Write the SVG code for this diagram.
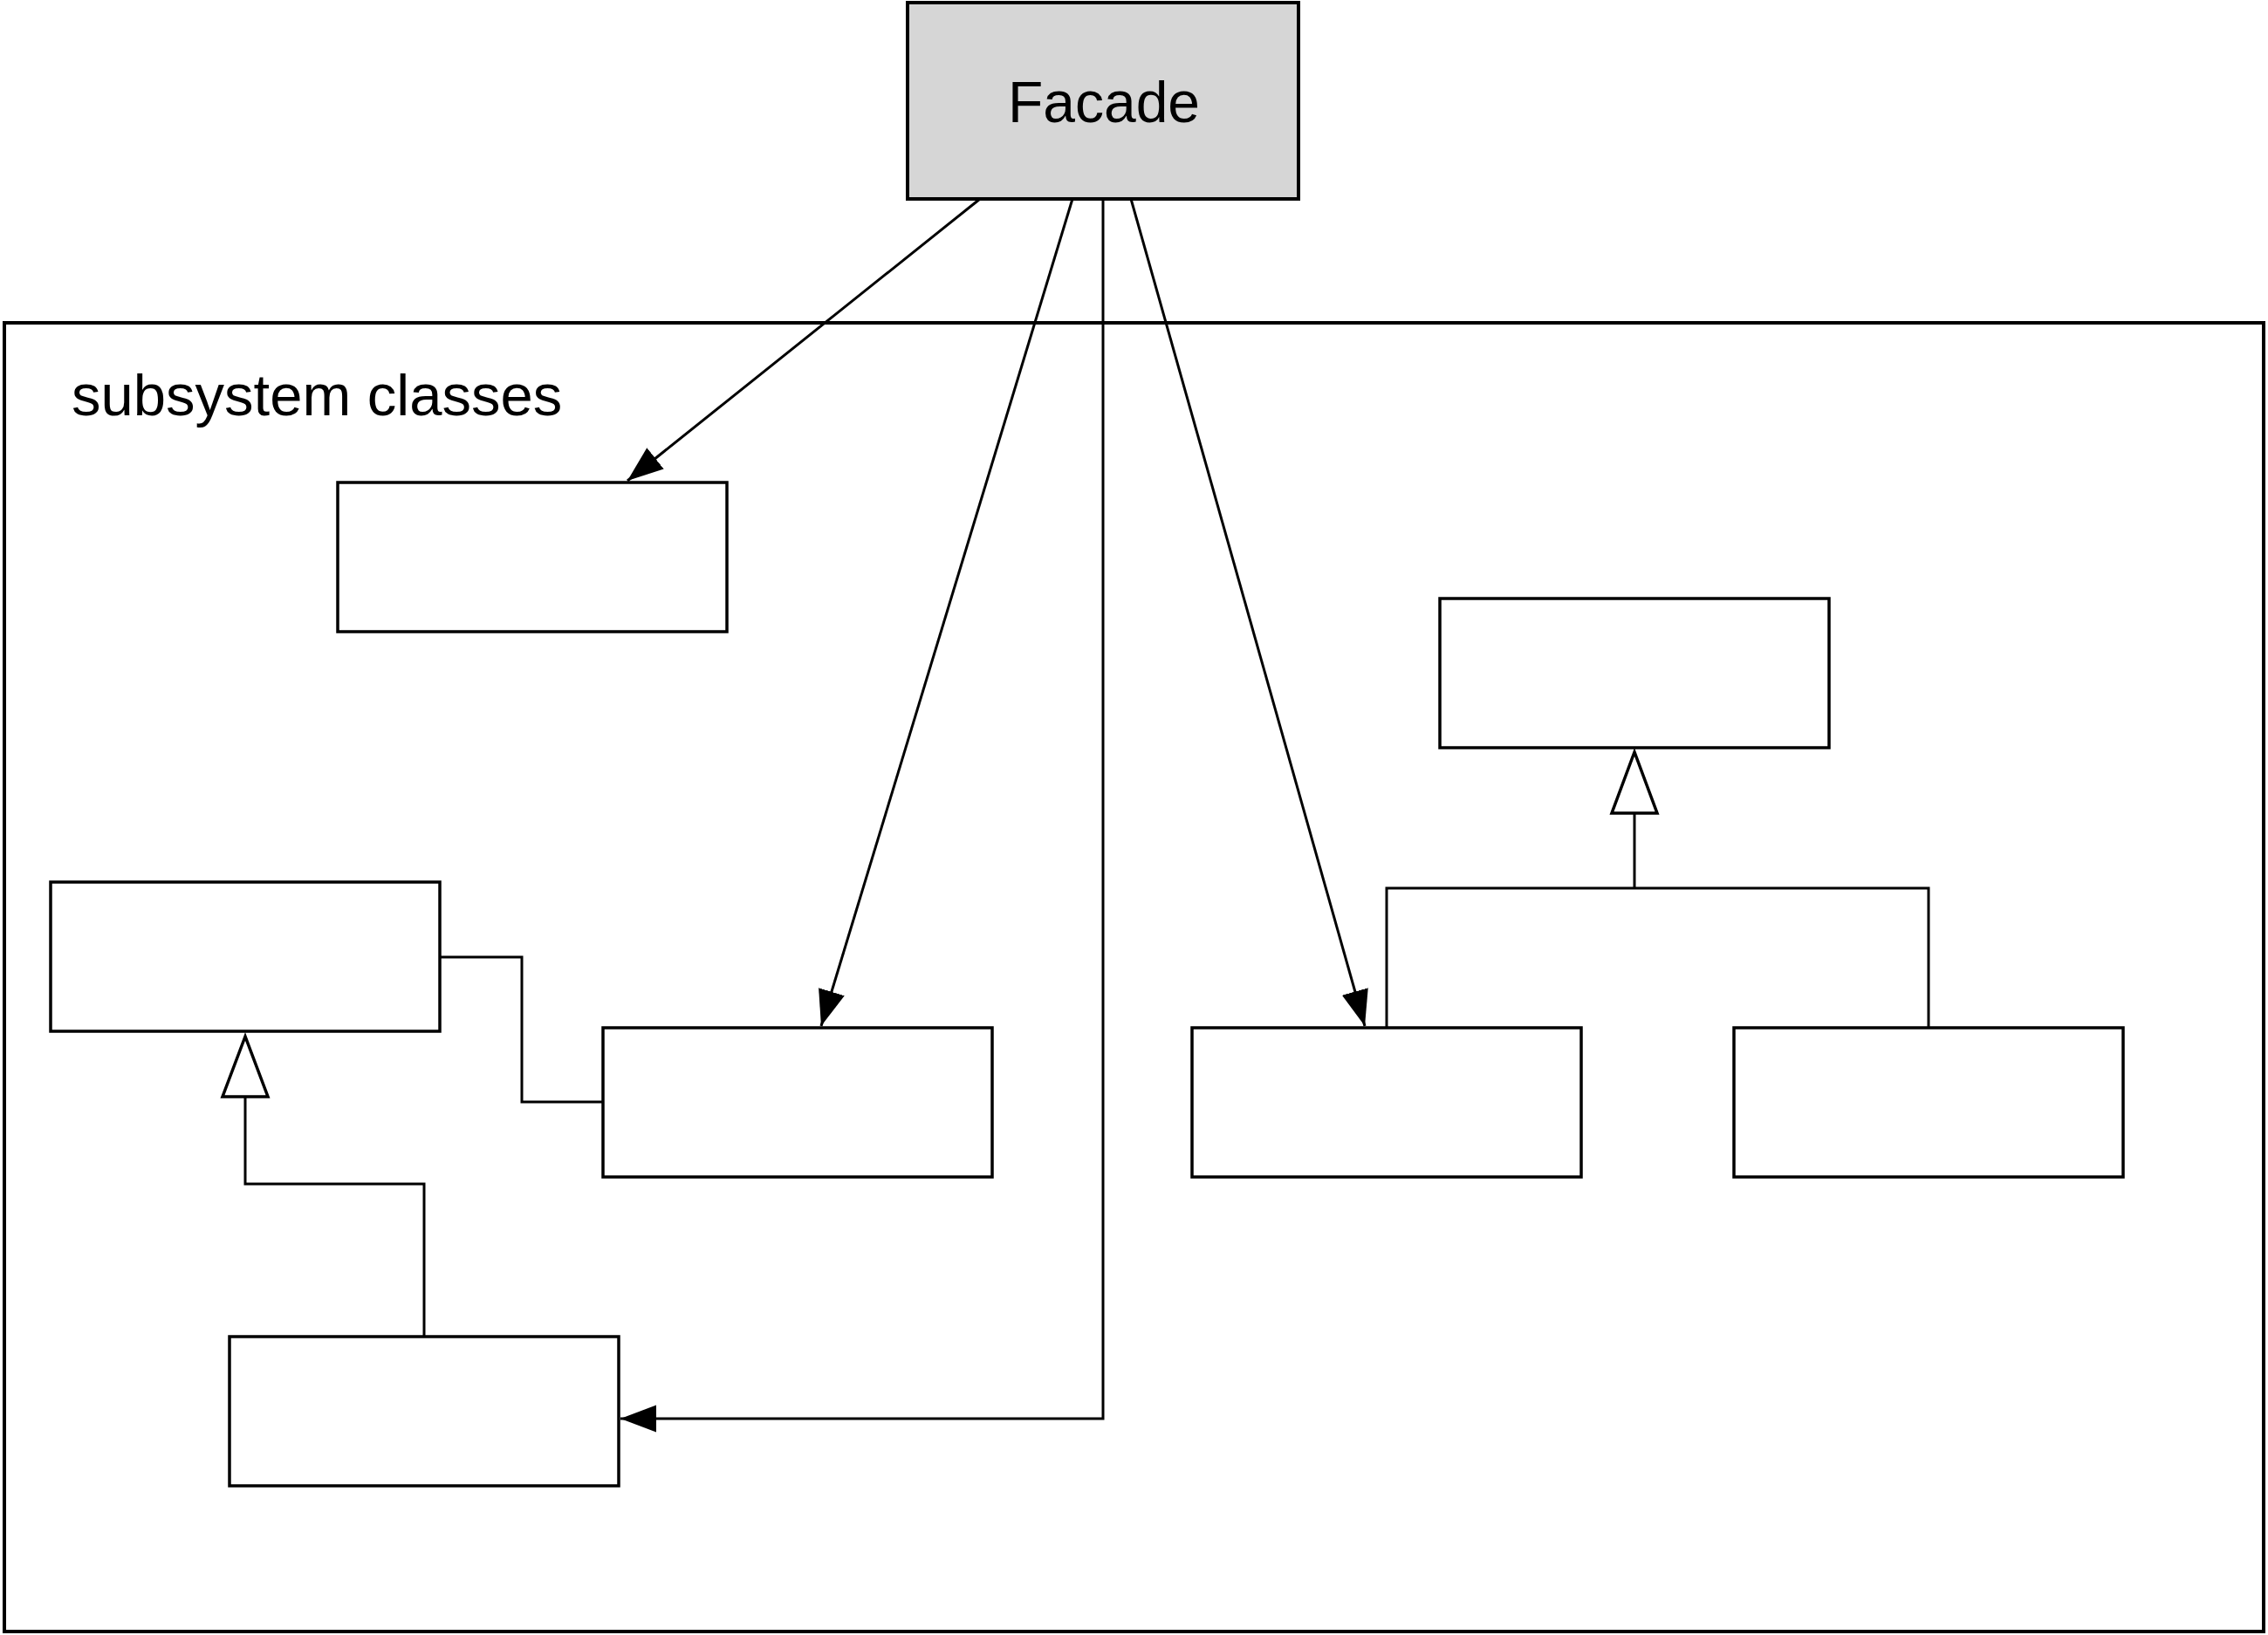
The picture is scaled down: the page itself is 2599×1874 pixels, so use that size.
<svg xmlns="http://www.w3.org/2000/svg" width="2599" height="1874" viewBox="0 0 2599 1874">
<style>
.box{fill:#ffffff;stroke:#000;stroke-width:3.5}
.facade{fill:#d6d6d6;stroke:#000;stroke-width:4}
.frame{fill:none;stroke:#000;stroke-width:4}
.ln{fill:none;stroke:#000;stroke-width:3}
.arr{fill:none;stroke:#000;stroke-width:3;marker-end:url(#filled)}
.gen{fill:#ffffff;stroke:#000;stroke-width:3.5;stroke-linejoin:miter}
.t{font-family:"Liberation Sans",Arial,Helvetica,sans-serif;fill:#000}
</style>
<defs>
<marker id="filled" markerUnits="userSpaceOnUse" markerWidth="42" markerHeight="32" refX="41" refY="15.5" orient="auto">
<path d="M0,0 L41,15.5 L0,31 z" fill="#000"/>
</marker>
</defs>
<rect width="2599" height="1874" fill="#ffffff"/>
<g id="subsystem">
<rect class="frame" x="5" y="370" width="2589" height="1500"/>
<text class="t" x="82" y="476" font-size="67">subsystem classes</text>
</g>
<g id="facade">
<rect class="facade" x="1040" y="3" width="448" height="225"/>
<text class="t" x="1265" y="140" font-size="66" text-anchor="middle">Facade</text>
</g>
<g id="classA"><rect class="box" x="387" y="553" width="446" height="171"/></g>
<g id="classB"><rect class="box" x="58" y="1011" width="446" height="171"/></g>
<g id="classC"><rect class="box" x="691" y="1178" width="446" height="171"/></g>
<g id="classD"><rect class="box" x="263" y="1532" width="446" height="171"/></g>
<g id="classE"><rect class="box" x="1650" y="686" width="446" height="171"/></g>
<g id="classF"><rect class="box" x="1366" y="1178" width="446" height="171"/></g>
<g id="classG"><rect class="box" x="1987" y="1178" width="446" height="171"/></g>
<g id="connectors">
<path class="arr" d="M1123,228 L719,551"/>
<path class="arr" d="M1229,228 L941,1176"/>
<path class="arr" d="M1264,228 L1264,1626 L711,1626"/>
<path class="arr" d="M1296,228 L1564,1176"/>
<path class="ln" d="M504,1097 H598 V1263 H691"/>
<path class="ln" d="M486,1532 V1357 H281 V1257"/>
<polygon class="gen" points="281,1188 255,1257 307,1257"/>
<path class="ln" d="M1589,1178 V1018 H2210 V1178"/>
<path class="ln" d="M1873,1018 V932"/>
<polygon class="gen" points="1873,862 1847,932 1899,932"/>
</g>
</svg>
